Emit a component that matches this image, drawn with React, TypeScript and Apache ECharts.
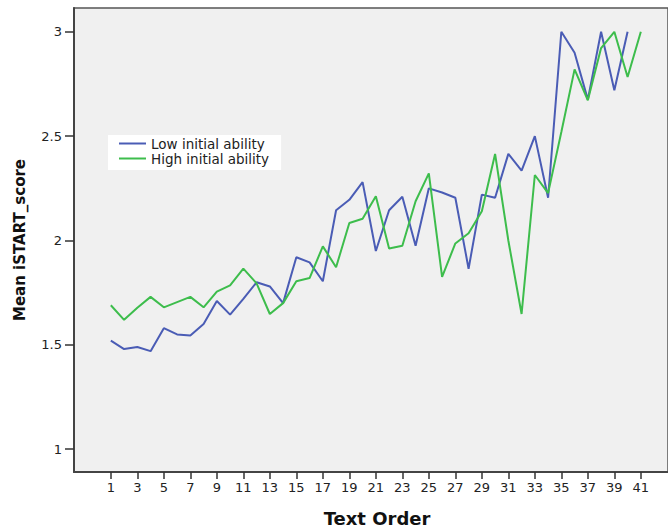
import React, { useEffect, useRef } from "react";
import * as echarts from "echarts";

const textOrder: number[] = Array.from({ length: 41 }, (_, i) => i + 1);
const xTickValues: number[] = [1, 3, 5, 7, 9, 11, 13, 15, 17, 19, 21, 23, 25, 27, 29, 31, 33, 35, 37, 39, 41];
const yTickValues: number[] = [1, 1.5, 2, 2.5, 3];

const lowAbility: number[] = [
  1.52, 1.48, 1.49, 1.47, 1.58, 1.55, 1.545, 1.6, 1.71, 1.645,
  1.72, 1.8, 1.78, 1.7, 1.92, 1.895, 1.805, 2.145, 2.195, 2.28,
  1.95, 2.145, 2.21, 1.975, 2.25, 2.23, 2.205, 1.865, 2.22, 2.205,
  2.415, 2.335, 2.5, 2.205, 3.0, 2.9, 2.675, 3.0, 2.72, 3.0,
];

const highAbility: number[] = [
  1.69, 1.62, 1.678, 1.73, 1.68, 1.705, 1.73, 1.68, 1.755, 1.785,
  1.865, 1.795, 1.648, 1.7, 1.805, 1.82, 1.972, 1.872, 2.084, 2.104,
  2.212, 1.962, 1.975, 2.188, 2.322, 1.826, 1.986, 2.035, 2.14, 2.415,
  2.0, 1.648, 2.314, 2.227, 2.52, 2.82, 2.672, 2.922, 3.0, 2.783,
  3.0,
];

const seriesNames: string[] = ["Low initial ability", "High initial ability"];
const seriesColors: string[] = ["#4a5cb5", "#3dbd4c"];

export default function App() {
  const ref = useRef<HTMLDivElement>(null);

  useEffect(() => {
    if (!ref.current) return;
    const chart = echarts.init(ref.current, undefined, { renderer: "svg" });
    const toPairs = (vals: number[]) => vals.map((v, i) => [textOrder[i], v]);
    const lineIcon = "path://M0,0 L27,0 L27,2 L0,2 Z";
    chart.setOption({
      animation: false,
      backgroundColor: "#ffffff",
      grid: {
        left: 74,
        right: 0,
        top: 8,
        bottom: 55,
        show: true,
        backgroundColor: "#f0f0f0",
        borderColor: "#555555",
        borderWidth: 1.5,
      },
      legend: {
        orient: "vertical",
        left: 108,
        top: 135,
        backgroundColor: "#ffffff",
        padding: [1, 12, 4, 11],
        itemGap: 0,
        itemWidth: 27,
        itemHeight: 2,
        data: seriesNames.map((n) => ({ name: n, icon: lineIcon })),
        textStyle: {
          fontFamily: "DejaVu Sans",
          fontSize: 13.5,
          color: "#222222",
          lineHeight: 15,
        },
      },
      xAxis: {
        type: "value",
        min: -1.78,
        max: 43.05,
        name: "Text Order",
        nameLocation: "middle",
        nameGap: 37,
        nameTextStyle: {
          fontFamily: "DejaVu Sans",
          fontWeight: "bold",
          fontSize: 18,
          color: "#111111",
          padding: [0, 0, 0, 12],
        },
        axisLine: { show: true, onZero: false, lineStyle: { color: "#444444", width: 2 } },
        axisTick: {
          show: true,
          inside: false,
          length: 7,
          customValues: xTickValues,
          lineStyle: { color: "#333333", width: 1.5 },
        },
        axisLabel: {
          customValues: xTickValues,
          margin: 9,
          fontFamily: "DejaVu Sans",
          fontSize: 13,
          color: "#222222",
        },
        splitLine: { show: false },
      },
      yAxis: {
        type: "value",
        min: 0.891,
        max: 3.114,
        name: "Mean iSTART_score",
        nameLocation: "middle",
        nameGap: 47,
        nameTextStyle: {
          fontFamily: "DejaVu Sans",
          fontWeight: "bold",
          fontSize: 15,
          color: "#111111",
        },
        axisLine: { show: true, onZero: false, lineStyle: { color: "#444444", width: 2 } },
        axisTick: {
          show: true,
          inside: false,
          length: 9,
          customValues: yTickValues,
          lineStyle: { color: "#333333", width: 1.5 },
        },
        axisLabel: {
          customValues: yTickValues,
          margin: 12,
          fontFamily: "DejaVu Sans",
          fontSize: 13,
          color: "#222222",
        },
        splitLine: { show: false },
      },
      series: [
        {
          name: seriesNames[0],
          type: "line",
          data: toPairs(lowAbility),
          symbol: "none",
          lineStyle: { color: seriesColors[0], width: 2 },
          itemStyle: { color: seriesColors[0] },
        },
        {
          name: seriesNames[1],
          type: "line",
          data: toPairs(highAbility),
          symbol: "none",
          lineStyle: { color: seriesColors[1], width: 2 },
          itemStyle: { color: seriesColors[1] },
        },
      ],
    });
    return () => chart.dispose();
  }, []);

  return (
    <div
      ref={ref}
      style={{ position: "fixed", left: 0, top: 0, width: 668, height: 532 }}
    />
  );
}
